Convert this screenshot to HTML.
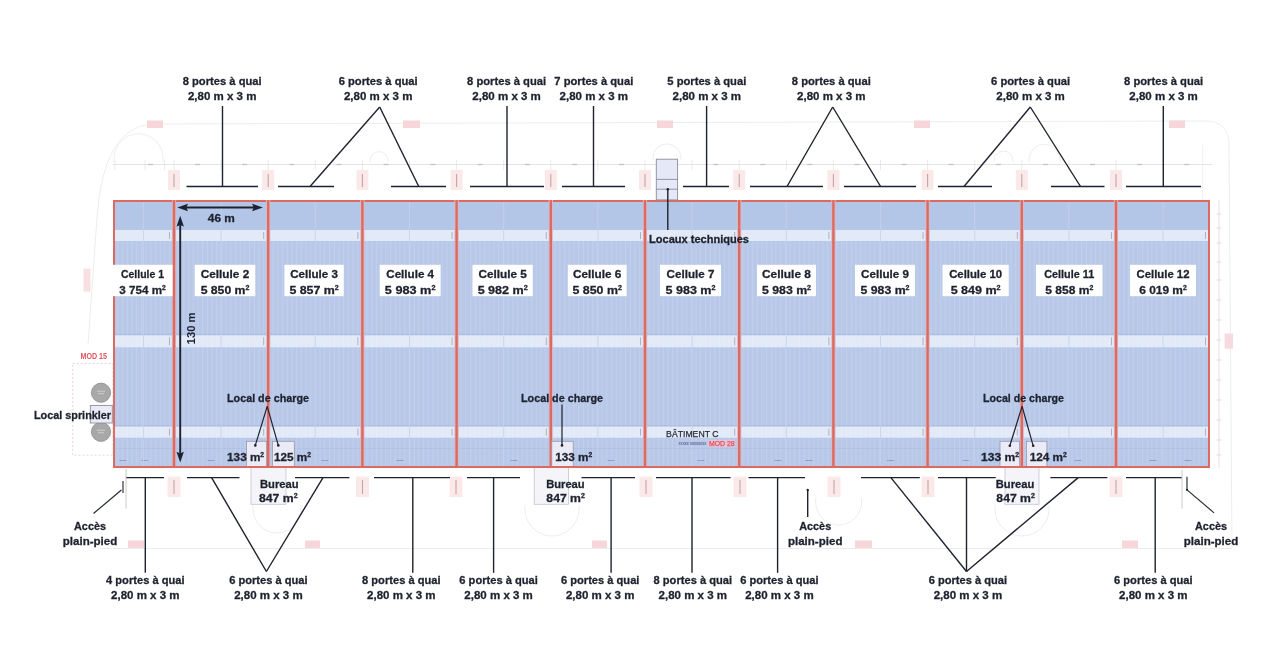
<!DOCTYPE html>
<html><head><meta charset="utf-8"><style>
html,body{margin:0;padding:0;background:#fff;}
svg{display:block;font-family:"Liberation Sans", sans-serif;filter:blur(0.35px);}
</style></head><body>
<svg width="1280" height="666" viewBox="0 0 1280 666">
<path d="M 88 345 L 97 217 Q 103 130 150 124 L 1205 121 Q 1229 121 1229 145 L 1232 548.5 L 100 548.5" fill="none" stroke="#ededed" stroke-width="1"/>
<line x1="113" y1="164.5" x2="1212" y2="164.5" stroke="#e2dcdc" stroke-width="0.8"/>
<line x1="148.0" y1="164.5" x2="153.0" y2="164.5" stroke="#c8c0c0" stroke-width="1.3"/>
<line x1="195.1" y1="164.5" x2="200.1" y2="164.5" stroke="#c8c0c0" stroke-width="1.3"/>
<line x1="242.2" y1="164.5" x2="247.2" y2="164.5" stroke="#c8c0c0" stroke-width="1.3"/>
<line x1="289.3" y1="164.5" x2="294.3" y2="164.5" stroke="#c8c0c0" stroke-width="1.3"/>
<line x1="336.4" y1="164.5" x2="341.4" y2="164.5" stroke="#c8c0c0" stroke-width="1.3"/>
<line x1="383.5" y1="164.5" x2="388.5" y2="164.5" stroke="#c8c0c0" stroke-width="1.3"/>
<line x1="430.6" y1="164.5" x2="435.6" y2="164.5" stroke="#c8c0c0" stroke-width="1.3"/>
<line x1="477.7" y1="164.5" x2="482.7" y2="164.5" stroke="#c8c0c0" stroke-width="1.3"/>
<line x1="524.8" y1="164.5" x2="529.8" y2="164.5" stroke="#c8c0c0" stroke-width="1.3"/>
<line x1="571.9000000000001" y1="164.5" x2="576.9000000000001" y2="164.5" stroke="#c8c0c0" stroke-width="1.3"/>
<line x1="619.0" y1="164.5" x2="624.0" y2="164.5" stroke="#c8c0c0" stroke-width="1.3"/>
<line x1="666.1" y1="164.5" x2="671.1" y2="164.5" stroke="#c8c0c0" stroke-width="1.3"/>
<line x1="713.2" y1="164.5" x2="718.2" y2="164.5" stroke="#c8c0c0" stroke-width="1.3"/>
<line x1="760.3000000000001" y1="164.5" x2="765.3000000000001" y2="164.5" stroke="#c8c0c0" stroke-width="1.3"/>
<line x1="807.4" y1="164.5" x2="812.4" y2="164.5" stroke="#c8c0c0" stroke-width="1.3"/>
<line x1="854.5" y1="164.5" x2="859.5" y2="164.5" stroke="#c8c0c0" stroke-width="1.3"/>
<line x1="901.6" y1="164.5" x2="906.6" y2="164.5" stroke="#c8c0c0" stroke-width="1.3"/>
<line x1="948.7" y1="164.5" x2="953.7" y2="164.5" stroke="#c8c0c0" stroke-width="1.3"/>
<line x1="995.8000000000001" y1="164.5" x2="1000.8000000000001" y2="164.5" stroke="#c8c0c0" stroke-width="1.3"/>
<line x1="1042.9" y1="164.5" x2="1047.9" y2="164.5" stroke="#c8c0c0" stroke-width="1.3"/>
<line x1="1090.0" y1="164.5" x2="1095.0" y2="164.5" stroke="#c8c0c0" stroke-width="1.3"/>
<line x1="1137.1" y1="164.5" x2="1142.1" y2="164.5" stroke="#c8c0c0" stroke-width="1.3"/>
<line x1="1184.2" y1="164.5" x2="1189.2" y2="164.5" stroke="#c8c0c0" stroke-width="1.3"/>
<line x1="100" y1="548.5" x2="1232" y2="548.5" stroke="#ebebeb" stroke-width="0.8"/>
<line x1="1219" y1="200" x2="1219" y2="468" stroke="#e6d2d2" stroke-width="0.7"/>
<line x1="1216.5" y1="214" x2="1221.5" y2="214" stroke="#d8c8c8" stroke-width="0.6"/>
<line x1="1216.5" y1="228" x2="1221.5" y2="228" stroke="#d8c8c8" stroke-width="0.6"/>
<line x1="1216.5" y1="243" x2="1221.5" y2="243" stroke="#d8c8c8" stroke-width="0.6"/>
<line x1="1216.5" y1="262" x2="1221.5" y2="262" stroke="#d8c8c8" stroke-width="0.6"/>
<line x1="1216.5" y1="280" x2="1221.5" y2="280" stroke="#d8c8c8" stroke-width="0.6"/>
<line x1="1216.5" y1="300" x2="1221.5" y2="300" stroke="#d8c8c8" stroke-width="0.6"/>
<line x1="1216.5" y1="320" x2="1221.5" y2="320" stroke="#d8c8c8" stroke-width="0.6"/>
<line x1="1216.5" y1="340" x2="1221.5" y2="340" stroke="#d8c8c8" stroke-width="0.6"/>
<line x1="1216.5" y1="360" x2="1221.5" y2="360" stroke="#d8c8c8" stroke-width="0.6"/>
<line x1="1216.5" y1="380" x2="1221.5" y2="380" stroke="#d8c8c8" stroke-width="0.6"/>
<line x1="1216.5" y1="400" x2="1221.5" y2="400" stroke="#d8c8c8" stroke-width="0.6"/>
<line x1="1216.5" y1="420" x2="1221.5" y2="420" stroke="#d8c8c8" stroke-width="0.6"/>
<line x1="1216.5" y1="440" x2="1221.5" y2="440" stroke="#d8c8c8" stroke-width="0.6"/>
<line x1="1216.5" y1="455" x2="1221.5" y2="455" stroke="#d8c8c8" stroke-width="0.6"/>
<rect x="1224.6" y="333.5" width="8.4" height="15.2" fill="#f7dadd" stroke="none" stroke-width="1"/>
<rect x="83.5" y="268.6" width="7" height="23" fill="#f8dfe1" stroke="none" stroke-width="1"/>
<line x1="115" y1="160" x2="115" y2="170" stroke="#dcdcdc" stroke-width="0.6"/>
<line x1="145" y1="160" x2="145" y2="170" stroke="#dcdcdc" stroke-width="0.6"/>
<line x1="164.5" y1="160" x2="164.5" y2="170" stroke="#dcdcdc" stroke-width="0.6"/>
<line x1="174.0" y1="160" x2="174.0" y2="170" stroke="#dcdcdc" stroke-width="0.6"/>
<line x1="221.1" y1="160" x2="221.1" y2="170" stroke="#dcdcdc" stroke-width="0.6"/>
<line x1="268.2" y1="160" x2="268.2" y2="170" stroke="#dcdcdc" stroke-width="0.6"/>
<line x1="315.3" y1="160" x2="315.3" y2="170" stroke="#dcdcdc" stroke-width="0.6"/>
<line x1="362.4" y1="160" x2="362.4" y2="170" stroke="#dcdcdc" stroke-width="0.6"/>
<line x1="409.5" y1="160" x2="409.5" y2="170" stroke="#dcdcdc" stroke-width="0.6"/>
<line x1="456.6" y1="160" x2="456.6" y2="170" stroke="#dcdcdc" stroke-width="0.6"/>
<line x1="503.7" y1="160" x2="503.7" y2="170" stroke="#dcdcdc" stroke-width="0.6"/>
<line x1="550.8" y1="160" x2="550.8" y2="170" stroke="#dcdcdc" stroke-width="0.6"/>
<line x1="597.9000000000001" y1="160" x2="597.9000000000001" y2="170" stroke="#dcdcdc" stroke-width="0.6"/>
<line x1="645.0" y1="160" x2="645.0" y2="170" stroke="#dcdcdc" stroke-width="0.6"/>
<line x1="692.1" y1="160" x2="692.1" y2="170" stroke="#dcdcdc" stroke-width="0.6"/>
<line x1="739.2" y1="160" x2="739.2" y2="170" stroke="#dcdcdc" stroke-width="0.6"/>
<line x1="786.3000000000001" y1="160" x2="786.3000000000001" y2="170" stroke="#dcdcdc" stroke-width="0.6"/>
<line x1="833.4" y1="160" x2="833.4" y2="170" stroke="#dcdcdc" stroke-width="0.6"/>
<line x1="880.5" y1="160" x2="880.5" y2="170" stroke="#dcdcdc" stroke-width="0.6"/>
<line x1="927.6" y1="160" x2="927.6" y2="170" stroke="#dcdcdc" stroke-width="0.6"/>
<line x1="974.7" y1="160" x2="974.7" y2="170" stroke="#dcdcdc" stroke-width="0.6"/>
<line x1="1021.8000000000001" y1="160" x2="1021.8000000000001" y2="170" stroke="#dcdcdc" stroke-width="0.6"/>
<line x1="1068.9" y1="160" x2="1068.9" y2="170" stroke="#dcdcdc" stroke-width="0.6"/>
<line x1="1116.0" y1="160" x2="1116.0" y2="170" stroke="#dcdcdc" stroke-width="0.6"/>
<line x1="1163.1" y1="160" x2="1163.1" y2="170" stroke="#dcdcdc" stroke-width="0.6"/>
<path d="M 114.0 162 L 114.0 158.3 A 24.5 24.5 0 0 1 163.0 158.3 L 163.0 162" fill="none" stroke="#ebebeb" stroke-width="0.9"/>
<path d="M 370 162 L 370 160.7 A 9 9 0 0 1 388 160.7 L 388 162" fill="none" stroke="#ebebeb" stroke-width="0.9"/>
<path d="M 653 160 L 653 157.9 A 14 14 0 0 1 681 157.9 L 681 160" fill="none" stroke="#ebebeb" stroke-width="0.9"/>
<path d="M 1029.0 162 L 1029.0 159.7 A 15.5 15.5 0 0 1 1060.0 159.7 L 1060.0 162" fill="none" stroke="#ebebeb" stroke-width="0.9"/>
<path d="M 994.0 162 L 994.0 160.6 A 9.5 9.5 0 0 1 1013.0 160.6 L 1013.0 162" fill="none" stroke="#ebebeb" stroke-width="0.9"/>
<path d="M 253 505 L 253 509 A 24 24 0 0 0 301 509 L 301 505" fill="none" stroke="#ebebeb" stroke-width="0.9"/>
<path d="M 525 505 L 525 509 A 27 27 0 0 0 579 509 L 579 505" fill="none" stroke="#ebebeb" stroke-width="0.9"/>
<path d="M 815.7 498 L 815.7 502 A 23 23 0 0 0 861.7 502 L 861.7 498" fill="none" stroke="#ebebeb" stroke-width="0.9"/>
<path d="M 995 505 L 995 509 A 27 27 0 0 0 1049 509 L 1049 505" fill="none" stroke="#ebebeb" stroke-width="0.9"/>
<line x1="1202.7" y1="145" x2="1202.7" y2="200" stroke="#ececec" stroke-width="0.8"/>
<rect x="113" y="200" width="1097" height="268" fill="#b7c8e9" stroke="none" stroke-width="1"/>
<rect x="113" y="201" width="1097" height="29" fill="#b4c6e8" stroke="none" stroke-width="1"/>
<rect x="113" y="230" width="1097" height="11" fill="#e2e9f7" stroke="none" stroke-width="1"/>
<rect x="113" y="333.7" width="1097" height="1.6" fill="#adbedf" stroke="none" stroke-width="1"/>
<rect x="113" y="335.3" width="1097" height="12.0" fill="#e2e9f7" stroke="none" stroke-width="1"/>
<rect x="113" y="425.0" width="1097" height="1.6" fill="#adbedf" stroke="none" stroke-width="1"/>
<rect x="113" y="426.6" width="1097" height="11.099999999999966" fill="#e2e9f7" stroke="none" stroke-width="1"/>
<line x1="113" y1="448.5" x2="1210" y2="448.5" stroke="#a9bbdf" stroke-width="0.6"/>
<line x1="119.4" y1="460.5" x2="126.4" y2="460.5" stroke="#8d9fc6" stroke-width="1"/>
<line x1="140.9" y1="460.5" x2="147.9" y2="460.5" stroke="#8d9fc6" stroke-width="1"/>
<line x1="207.5" y1="460.5" x2="214.5" y2="460.5" stroke="#8d9fc6" stroke-width="1"/>
<line x1="321.4" y1="460.5" x2="328.4" y2="460.5" stroke="#8d9fc6" stroke-width="1"/>
<line x1="396.5" y1="460.5" x2="403.5" y2="460.5" stroke="#8d9fc6" stroke-width="1"/>
<line x1="510.5" y1="460.5" x2="517.5" y2="460.5" stroke="#8d9fc6" stroke-width="1"/>
<line x1="607.5" y1="460.5" x2="614.5" y2="460.5" stroke="#8d9fc6" stroke-width="1"/>
<line x1="697.3" y1="460.5" x2="704.3" y2="460.5" stroke="#8d9fc6" stroke-width="1"/>
<line x1="774.5" y1="460.5" x2="781.5" y2="460.5" stroke="#8d9fc6" stroke-width="1"/>
<line x1="805.5" y1="460.5" x2="812.5" y2="460.5" stroke="#8d9fc6" stroke-width="1"/>
<line x1="887.1" y1="460.5" x2="894.1" y2="460.5" stroke="#8d9fc6" stroke-width="1"/>
<line x1="962.2" y1="460.5" x2="969.2" y2="460.5" stroke="#8d9fc6" stroke-width="1"/>
<line x1="1074.5" y1="460.5" x2="1081.5" y2="460.5" stroke="#8d9fc6" stroke-width="1"/>
<line x1="1149.5" y1="460.5" x2="1156.5" y2="460.5" stroke="#8d9fc6" stroke-width="1"/>
<line x1="1184.2" y1="460.5" x2="1191.2" y2="460.5" stroke="#8d9fc6" stroke-width="1"/>
<defs><pattern id="st" x="0" y="0" width="4.7" height="10" patternUnits="userSpaceOnUse"><rect x="0" y="0" width="1" height="10" fill="#ffffff" fill-opacity="0.13"/></pattern></defs>
<rect x="113" y="241" width="1097" height="225" fill="url(#st)" stroke="none" stroke-width="1"/>
<line x1="169.5" y1="232" x2="169.5" y2="239" stroke="#a8aab8" stroke-width="0.9"/>
<line x1="169.5" y1="337.3" x2="169.5" y2="345.3" stroke="#a8aab8" stroke-width="0.9"/>
<line x1="169.5" y1="428.6" x2="169.5" y2="435.7" stroke="#a8aab8" stroke-width="0.9"/>
<line x1="263.7" y1="232" x2="263.7" y2="239" stroke="#a8aab8" stroke-width="0.9"/>
<line x1="263.7" y1="337.3" x2="263.7" y2="345.3" stroke="#a8aab8" stroke-width="0.9"/>
<line x1="263.7" y1="428.6" x2="263.7" y2="435.7" stroke="#a8aab8" stroke-width="0.9"/>
<line x1="357.9" y1="232" x2="357.9" y2="239" stroke="#a8aab8" stroke-width="0.9"/>
<line x1="357.9" y1="337.3" x2="357.9" y2="345.3" stroke="#a8aab8" stroke-width="0.9"/>
<line x1="357.9" y1="428.6" x2="357.9" y2="435.7" stroke="#a8aab8" stroke-width="0.9"/>
<line x1="452.1" y1="232" x2="452.1" y2="239" stroke="#a8aab8" stroke-width="0.9"/>
<line x1="452.1" y1="337.3" x2="452.1" y2="345.3" stroke="#a8aab8" stroke-width="0.9"/>
<line x1="452.1" y1="428.6" x2="452.1" y2="435.7" stroke="#a8aab8" stroke-width="0.9"/>
<line x1="546.3" y1="232" x2="546.3" y2="239" stroke="#a8aab8" stroke-width="0.9"/>
<line x1="546.3" y1="337.3" x2="546.3" y2="345.3" stroke="#a8aab8" stroke-width="0.9"/>
<line x1="546.3" y1="428.6" x2="546.3" y2="435.7" stroke="#a8aab8" stroke-width="0.9"/>
<line x1="640.5" y1="232" x2="640.5" y2="239" stroke="#a8aab8" stroke-width="0.9"/>
<line x1="640.5" y1="337.3" x2="640.5" y2="345.3" stroke="#a8aab8" stroke-width="0.9"/>
<line x1="640.5" y1="428.6" x2="640.5" y2="435.7" stroke="#a8aab8" stroke-width="0.9"/>
<line x1="734.7" y1="232" x2="734.7" y2="239" stroke="#a8aab8" stroke-width="0.9"/>
<line x1="734.7" y1="337.3" x2="734.7" y2="345.3" stroke="#a8aab8" stroke-width="0.9"/>
<line x1="734.7" y1="428.6" x2="734.7" y2="435.7" stroke="#a8aab8" stroke-width="0.9"/>
<line x1="828.9" y1="232" x2="828.9" y2="239" stroke="#a8aab8" stroke-width="0.9"/>
<line x1="828.9" y1="337.3" x2="828.9" y2="345.3" stroke="#a8aab8" stroke-width="0.9"/>
<line x1="828.9" y1="428.6" x2="828.9" y2="435.7" stroke="#a8aab8" stroke-width="0.9"/>
<line x1="923.1" y1="232" x2="923.1" y2="239" stroke="#a8aab8" stroke-width="0.9"/>
<line x1="923.1" y1="337.3" x2="923.1" y2="345.3" stroke="#a8aab8" stroke-width="0.9"/>
<line x1="923.1" y1="428.6" x2="923.1" y2="435.7" stroke="#a8aab8" stroke-width="0.9"/>
<line x1="1017.3000000000001" y1="232" x2="1017.3000000000001" y2="239" stroke="#a8aab8" stroke-width="0.9"/>
<line x1="1017.3000000000001" y1="337.3" x2="1017.3000000000001" y2="345.3" stroke="#a8aab8" stroke-width="0.9"/>
<line x1="1017.3000000000001" y1="428.6" x2="1017.3000000000001" y2="435.7" stroke="#a8aab8" stroke-width="0.9"/>
<line x1="1111.5" y1="232" x2="1111.5" y2="239" stroke="#a8aab8" stroke-width="0.9"/>
<line x1="1111.5" y1="337.3" x2="1111.5" y2="345.3" stroke="#a8aab8" stroke-width="0.9"/>
<line x1="1111.5" y1="428.6" x2="1111.5" y2="435.7" stroke="#a8aab8" stroke-width="0.9"/>
<line x1="1205.5" y1="232" x2="1205.5" y2="239" stroke="#a8aab8" stroke-width="0.9"/>
<line x1="1205.5" y1="337.3" x2="1205.5" y2="345.3" stroke="#a8aab8" stroke-width="0.9"/>
<line x1="1205.5" y1="428.6" x2="1205.5" y2="435.7" stroke="#a8aab8" stroke-width="0.9"/>
<line x1="143.5" y1="202" x2="143.5" y2="466" stroke="#c4d2ee" stroke-width="0.8"/>
<line x1="221.1" y1="202" x2="221.1" y2="466" stroke="#c4d2ee" stroke-width="0.8"/>
<line x1="315.29999999999995" y1="202" x2="315.29999999999995" y2="466" stroke="#c4d2ee" stroke-width="0.8"/>
<line x1="409.5" y1="202" x2="409.5" y2="466" stroke="#c4d2ee" stroke-width="0.8"/>
<line x1="503.7" y1="202" x2="503.7" y2="466" stroke="#c4d2ee" stroke-width="0.8"/>
<line x1="597.9" y1="202" x2="597.9" y2="466" stroke="#c4d2ee" stroke-width="0.8"/>
<line x1="692.1" y1="202" x2="692.1" y2="466" stroke="#c4d2ee" stroke-width="0.8"/>
<line x1="786.3" y1="202" x2="786.3" y2="466" stroke="#c4d2ee" stroke-width="0.8"/>
<line x1="880.5" y1="202" x2="880.5" y2="466" stroke="#c4d2ee" stroke-width="0.8"/>
<line x1="974.7" y1="202" x2="974.7" y2="466" stroke="#c4d2ee" stroke-width="0.8"/>
<line x1="1068.9" y1="202" x2="1068.9" y2="466" stroke="#c4d2ee" stroke-width="0.8"/>
<line x1="1163.0" y1="202" x2="1163.0" y2="466" stroke="#c4d2ee" stroke-width="0.8"/>
<rect x="114" y="201" width="1095" height="266" fill="none" stroke="#dc6a60" stroke-width="2"/>
<line x1="174.0" y1="200" x2="174.0" y2="468" stroke="#dcb8c4" stroke-width="4.2"/>
<line x1="174.0" y1="200" x2="174.0" y2="468" stroke="#dc6a60" stroke-width="2.4"/>
<line x1="268.2" y1="200" x2="268.2" y2="468" stroke="#dcb8c4" stroke-width="4.2"/>
<line x1="268.2" y1="200" x2="268.2" y2="468" stroke="#dc6a60" stroke-width="2.4"/>
<line x1="362.4" y1="200" x2="362.4" y2="468" stroke="#dcb8c4" stroke-width="4.2"/>
<line x1="362.4" y1="200" x2="362.4" y2="468" stroke="#dc6a60" stroke-width="2.4"/>
<line x1="456.6" y1="200" x2="456.6" y2="468" stroke="#dcb8c4" stroke-width="4.2"/>
<line x1="456.6" y1="200" x2="456.6" y2="468" stroke="#dc6a60" stroke-width="2.4"/>
<line x1="550.8" y1="200" x2="550.8" y2="468" stroke="#dcb8c4" stroke-width="4.2"/>
<line x1="550.8" y1="200" x2="550.8" y2="468" stroke="#dc6a60" stroke-width="2.4"/>
<line x1="645.0" y1="200" x2="645.0" y2="468" stroke="#dcb8c4" stroke-width="4.2"/>
<line x1="645.0" y1="200" x2="645.0" y2="468" stroke="#dc6a60" stroke-width="2.4"/>
<line x1="739.2" y1="200" x2="739.2" y2="468" stroke="#dcb8c4" stroke-width="4.2"/>
<line x1="739.2" y1="200" x2="739.2" y2="468" stroke="#dc6a60" stroke-width="2.4"/>
<line x1="833.4" y1="200" x2="833.4" y2="468" stroke="#dcb8c4" stroke-width="4.2"/>
<line x1="833.4" y1="200" x2="833.4" y2="468" stroke="#dc6a60" stroke-width="2.4"/>
<line x1="927.6" y1="200" x2="927.6" y2="468" stroke="#dcb8c4" stroke-width="4.2"/>
<line x1="927.6" y1="200" x2="927.6" y2="468" stroke="#dc6a60" stroke-width="2.4"/>
<line x1="1021.8000000000001" y1="200" x2="1021.8000000000001" y2="468" stroke="#dcb8c4" stroke-width="4.2"/>
<line x1="1021.8000000000001" y1="200" x2="1021.8000000000001" y2="468" stroke="#dc6a60" stroke-width="2.4"/>
<line x1="1116.0" y1="200" x2="1116.0" y2="468" stroke="#dcb8c4" stroke-width="4.2"/>
<line x1="1116.0" y1="200" x2="1116.0" y2="468" stroke="#dc6a60" stroke-width="2.4"/>
<rect x="168.0" y="170" width="12" height="20" fill="#fbe9ea" stroke="none" stroke-width="1"/>
<line x1="174.0" y1="174" x2="174.0" y2="187" stroke="#c4a4a6" stroke-width="1.1"/>
<rect x="262.2" y="170" width="12" height="20" fill="#fbe9ea" stroke="none" stroke-width="1"/>
<line x1="268.2" y1="174" x2="268.2" y2="187" stroke="#c4a4a6" stroke-width="1.1"/>
<rect x="356.4" y="170" width="12" height="20" fill="#fbe9ea" stroke="none" stroke-width="1"/>
<line x1="362.4" y1="174" x2="362.4" y2="187" stroke="#c4a4a6" stroke-width="1.1"/>
<rect x="450.6" y="170" width="12" height="20" fill="#fbe9ea" stroke="none" stroke-width="1"/>
<line x1="456.6" y1="174" x2="456.6" y2="187" stroke="#c4a4a6" stroke-width="1.1"/>
<rect x="544.8" y="170" width="12" height="20" fill="#fbe9ea" stroke="none" stroke-width="1"/>
<line x1="550.8" y1="174" x2="550.8" y2="187" stroke="#c4a4a6" stroke-width="1.1"/>
<rect x="639.0" y="170" width="12" height="20" fill="#fbe9ea" stroke="none" stroke-width="1"/>
<line x1="645.0" y1="174" x2="645.0" y2="187" stroke="#c4a4a6" stroke-width="1.1"/>
<rect x="733.2" y="170" width="12" height="20" fill="#fbe9ea" stroke="none" stroke-width="1"/>
<line x1="739.2" y1="174" x2="739.2" y2="187" stroke="#c4a4a6" stroke-width="1.1"/>
<rect x="827.4" y="170" width="12" height="20" fill="#fbe9ea" stroke="none" stroke-width="1"/>
<line x1="833.4" y1="174" x2="833.4" y2="187" stroke="#c4a4a6" stroke-width="1.1"/>
<rect x="921.6" y="170" width="12" height="20" fill="#fbe9ea" stroke="none" stroke-width="1"/>
<line x1="927.6" y1="174" x2="927.6" y2="187" stroke="#c4a4a6" stroke-width="1.1"/>
<rect x="1015.8000000000001" y="170" width="12" height="20" fill="#fbe9ea" stroke="none" stroke-width="1"/>
<line x1="1021.8000000000001" y1="174" x2="1021.8000000000001" y2="187" stroke="#c4a4a6" stroke-width="1.1"/>
<rect x="1110.0" y="170" width="12" height="20" fill="#fbe9ea" stroke="none" stroke-width="1"/>
<line x1="1116.0" y1="174" x2="1116.0" y2="187" stroke="#c4a4a6" stroke-width="1.1"/>
<rect x="167.5" y="476.5" width="13" height="20.5" fill="#fbe9ea" stroke="none" stroke-width="1"/>
<line x1="174" y1="480" x2="174" y2="494" stroke="#c4a4a6" stroke-width="1.1"/>
<rect x="356.0" y="476.5" width="13" height="20.5" fill="#fbe9ea" stroke="none" stroke-width="1"/>
<line x1="362.5" y1="480" x2="362.5" y2="494" stroke="#c4a4a6" stroke-width="1.1"/>
<rect x="449.5" y="476.5" width="13" height="20.5" fill="#fbe9ea" stroke="none" stroke-width="1"/>
<line x1="456" y1="480" x2="456" y2="494" stroke="#c4a4a6" stroke-width="1.1"/>
<rect x="639.5" y="476.5" width="13" height="20.5" fill="#fbe9ea" stroke="none" stroke-width="1"/>
<line x1="646" y1="480" x2="646" y2="494" stroke="#c4a4a6" stroke-width="1.1"/>
<rect x="733.5" y="476.5" width="13" height="20.5" fill="#fbe9ea" stroke="none" stroke-width="1"/>
<line x1="740" y1="480" x2="740" y2="494" stroke="#c4a4a6" stroke-width="1.1"/>
<rect x="827.5" y="476.5" width="13" height="20.5" fill="#fbe9ea" stroke="none" stroke-width="1"/>
<line x1="834" y1="480" x2="834" y2="494" stroke="#c4a4a6" stroke-width="1.1"/>
<rect x="921.5" y="476.5" width="13" height="20.5" fill="#fbe9ea" stroke="none" stroke-width="1"/>
<line x1="928" y1="480" x2="928" y2="494" stroke="#c4a4a6" stroke-width="1.1"/>
<rect x="1109.5" y="476.5" width="13" height="20.5" fill="#fbe9ea" stroke="none" stroke-width="1"/>
<line x1="1116" y1="480" x2="1116" y2="494" stroke="#c4a4a6" stroke-width="1.1"/>
<rect x="147" y="120.5" width="16" height="7.5" fill="#f6d6d9" stroke="none" stroke-width="1"/>
<rect x="403" y="120.5" width="17" height="7.5" fill="#f6d6d9" stroke="none" stroke-width="1"/>
<rect x="657" y="120.5" width="16" height="7.5" fill="#f6d6d9" stroke="none" stroke-width="1"/>
<rect x="914" y="120.5" width="16" height="7.5" fill="#f6d6d9" stroke="none" stroke-width="1"/>
<rect x="1169" y="120.5" width="16" height="7.5" fill="#f6d6d9" stroke="none" stroke-width="1"/>
<rect x="128" y="540.5" width="16" height="7.5" fill="#f6d6d9" stroke="none" stroke-width="1"/>
<rect x="305" y="540.5" width="15" height="7.5" fill="#f6d6d9" stroke="none" stroke-width="1"/>
<rect x="592" y="540.5" width="15" height="7.5" fill="#f6d6d9" stroke="none" stroke-width="1"/>
<rect x="855" y="540.5" width="17" height="7.5" fill="#f6d6d9" stroke="none" stroke-width="1"/>
<rect x="1122" y="540.5" width="16" height="7.5" fill="#f6d6d9" stroke="none" stroke-width="1"/>
<text x="222.2" y="85.2" font-size="11.5" font-weight="bold" fill="#1e222e" text-anchor="middle" textLength="79" lengthAdjust="spacingAndGlyphs" stroke="#1e222e" stroke-width="0.3">8 portes à quai</text>
<text x="222.2" y="100.4" font-size="11.5" font-weight="bold" fill="#1e222e" text-anchor="middle" textLength="68.5" lengthAdjust="spacingAndGlyphs" stroke="#1e222e" stroke-width="0.3">2,80 m x 3 m</text>
<line x1="222.5" y1="106" x2="222.5" y2="186.5" stroke="#1e222e" stroke-width="1.4"/>
<line x1="186.5" y1="186.5" x2="258" y2="186.5" stroke="#1e222e" stroke-width="1.4"/>
<text x="378.2" y="85.2" font-size="11.5" font-weight="bold" fill="#1e222e" text-anchor="middle" textLength="79" lengthAdjust="spacingAndGlyphs" stroke="#1e222e" stroke-width="0.3">6 portes à quai</text>
<text x="378.2" y="100.4" font-size="11.5" font-weight="bold" fill="#1e222e" text-anchor="middle" textLength="68.5" lengthAdjust="spacingAndGlyphs" stroke="#1e222e" stroke-width="0.3">2,80 m x 3 m</text>
<line x1="379.7" y1="107" x2="310" y2="186.5" stroke="#1e222e" stroke-width="1.4"/>
<line x1="379.7" y1="107" x2="418.75" y2="186.5" stroke="#1e222e" stroke-width="1.4"/>
<line x1="278" y1="186.5" x2="334" y2="186.5" stroke="#1e222e" stroke-width="1.4"/>
<line x1="391" y1="186.5" x2="446" y2="186.5" stroke="#1e222e" stroke-width="1.4"/>
<text x="506.6" y="85.2" font-size="11.5" font-weight="bold" fill="#1e222e" text-anchor="middle" textLength="79" lengthAdjust="spacingAndGlyphs" stroke="#1e222e" stroke-width="0.3">8 portes à quai</text>
<text x="506.6" y="100.4" font-size="11.5" font-weight="bold" fill="#1e222e" text-anchor="middle" textLength="68.5" lengthAdjust="spacingAndGlyphs" stroke="#1e222e" stroke-width="0.3">2,80 m x 3 m</text>
<line x1="507" y1="106" x2="507" y2="186.5" stroke="#1e222e" stroke-width="1.4"/>
<line x1="470" y1="186.5" x2="544" y2="186.5" stroke="#1e222e" stroke-width="1.4"/>
<text x="593.8" y="85.2" font-size="11.5" font-weight="bold" fill="#1e222e" text-anchor="middle" textLength="79" lengthAdjust="spacingAndGlyphs" stroke="#1e222e" stroke-width="0.3">7 portes à quai</text>
<text x="593.8" y="100.4" font-size="11.5" font-weight="bold" fill="#1e222e" text-anchor="middle" textLength="68.5" lengthAdjust="spacingAndGlyphs" stroke="#1e222e" stroke-width="0.3">2,80 m x 3 m</text>
<line x1="593.5" y1="106" x2="593.5" y2="186.5" stroke="#1e222e" stroke-width="1.4"/>
<line x1="562" y1="186.5" x2="625" y2="186.5" stroke="#1e222e" stroke-width="1.4"/>
<text x="706.8" y="85.2" font-size="11.5" font-weight="bold" fill="#1e222e" text-anchor="middle" textLength="79" lengthAdjust="spacingAndGlyphs" stroke="#1e222e" stroke-width="0.3">5 portes à quai</text>
<text x="706.8" y="100.4" font-size="11.5" font-weight="bold" fill="#1e222e" text-anchor="middle" textLength="68.5" lengthAdjust="spacingAndGlyphs" stroke="#1e222e" stroke-width="0.3">2,80 m x 3 m</text>
<line x1="706.6" y1="106" x2="706.6" y2="186.5" stroke="#1e222e" stroke-width="1.4"/>
<line x1="683" y1="186.5" x2="729" y2="186.5" stroke="#1e222e" stroke-width="1.4"/>
<text x="831.3" y="85.2" font-size="11.5" font-weight="bold" fill="#1e222e" text-anchor="middle" textLength="79" lengthAdjust="spacingAndGlyphs" stroke="#1e222e" stroke-width="0.3">8 portes à quai</text>
<text x="831.3" y="100.4" font-size="11.5" font-weight="bold" fill="#1e222e" text-anchor="middle" textLength="68.5" lengthAdjust="spacingAndGlyphs" stroke="#1e222e" stroke-width="0.3">2,80 m x 3 m</text>
<line x1="832.7" y1="107" x2="787" y2="186.5" stroke="#1e222e" stroke-width="1.4"/>
<line x1="832.7" y1="107" x2="880.6" y2="186.5" stroke="#1e222e" stroke-width="1.4"/>
<line x1="750" y1="186.5" x2="823" y2="186.5" stroke="#1e222e" stroke-width="1.4"/>
<line x1="844" y1="186.5" x2="916" y2="186.5" stroke="#1e222e" stroke-width="1.4"/>
<text x="1030.6" y="85.2" font-size="11.5" font-weight="bold" fill="#1e222e" text-anchor="middle" textLength="79" lengthAdjust="spacingAndGlyphs" stroke="#1e222e" stroke-width="0.3">6 portes à quai</text>
<text x="1030.6" y="100.4" font-size="11.5" font-weight="bold" fill="#1e222e" text-anchor="middle" textLength="68.5" lengthAdjust="spacingAndGlyphs" stroke="#1e222e" stroke-width="0.3">2,80 m x 3 m</text>
<line x1="1030.3" y1="107" x2="964" y2="186.5" stroke="#1e222e" stroke-width="1.4"/>
<line x1="1030.3" y1="107" x2="1080.5" y2="186.5" stroke="#1e222e" stroke-width="1.4"/>
<line x1="938" y1="186.5" x2="992" y2="186.5" stroke="#1e222e" stroke-width="1.4"/>
<line x1="1051" y1="186.5" x2="1104.5" y2="186.5" stroke="#1e222e" stroke-width="1.4"/>
<text x="1163.6" y="85.2" font-size="11.5" font-weight="bold" fill="#1e222e" text-anchor="middle" textLength="79" lengthAdjust="spacingAndGlyphs" stroke="#1e222e" stroke-width="0.3">8 portes à quai</text>
<text x="1163.6" y="100.4" font-size="11.5" font-weight="bold" fill="#1e222e" text-anchor="middle" textLength="68.5" lengthAdjust="spacingAndGlyphs" stroke="#1e222e" stroke-width="0.3">2,80 m x 3 m</text>
<line x1="1163.3" y1="106" x2="1163.3" y2="186.5" stroke="#1e222e" stroke-width="1.4"/>
<line x1="1126" y1="186.5" x2="1201" y2="186.5" stroke="#1e222e" stroke-width="1.4"/>
<text x="145.3" y="584.1" font-size="11.5" font-weight="bold" fill="#1e222e" text-anchor="middle" textLength="78.5" lengthAdjust="spacingAndGlyphs" stroke="#1e222e" stroke-width="0.3">4 portes à quai</text>
<text x="145.3" y="599.4" font-size="11.5" font-weight="bold" fill="#1e222e" text-anchor="middle" textLength="68.5" lengthAdjust="spacingAndGlyphs" stroke="#1e222e" stroke-width="0.3">2,80 m x 3 m</text>
<line x1="145.3" y1="477.6" x2="145.3" y2="572.8" stroke="#1e222e" stroke-width="1.4"/>
<line x1="126" y1="477.6" x2="164" y2="477.6" stroke="#1e222e" stroke-width="1.4"/>
<text x="268.4" y="584.1" font-size="11.5" font-weight="bold" fill="#1e222e" text-anchor="middle" textLength="78.5" lengthAdjust="spacingAndGlyphs" stroke="#1e222e" stroke-width="0.3">6 portes à quai</text>
<text x="268.4" y="599.4" font-size="11.5" font-weight="bold" fill="#1e222e" text-anchor="middle" textLength="68.5" lengthAdjust="spacingAndGlyphs" stroke="#1e222e" stroke-width="0.3">2,80 m x 3 m</text>
<line x1="266.4" y1="571.5" x2="211.6" y2="477.6" stroke="#1e222e" stroke-width="1.4"/>
<line x1="266.4" y1="571.5" x2="323" y2="477.6" stroke="#1e222e" stroke-width="1.4"/>
<line x1="187" y1="477.6" x2="239.5" y2="477.6" stroke="#1e222e" stroke-width="1.4"/>
<line x1="295" y1="477.6" x2="349.4" y2="477.6" stroke="#1e222e" stroke-width="1.4"/>
<text x="401.3" y="584.1" font-size="11.5" font-weight="bold" fill="#1e222e" text-anchor="middle" textLength="78.5" lengthAdjust="spacingAndGlyphs" stroke="#1e222e" stroke-width="0.3">8 portes à quai</text>
<text x="401.3" y="599.4" font-size="11.5" font-weight="bold" fill="#1e222e" text-anchor="middle" textLength="68.5" lengthAdjust="spacingAndGlyphs" stroke="#1e222e" stroke-width="0.3">2,80 m x 3 m</text>
<line x1="412.8" y1="477.6" x2="412.8" y2="572.8" stroke="#1e222e" stroke-width="1.4"/>
<line x1="374" y1="477.6" x2="450" y2="477.6" stroke="#1e222e" stroke-width="1.4"/>
<text x="498.6" y="584.1" font-size="11.5" font-weight="bold" fill="#1e222e" text-anchor="middle" textLength="78.5" lengthAdjust="spacingAndGlyphs" stroke="#1e222e" stroke-width="0.3">6 portes à quai</text>
<text x="498.6" y="599.4" font-size="11.5" font-weight="bold" fill="#1e222e" text-anchor="middle" textLength="68.5" lengthAdjust="spacingAndGlyphs" stroke="#1e222e" stroke-width="0.3">2,80 m x 3 m</text>
<line x1="493.6" y1="477.6" x2="493.6" y2="572.8" stroke="#1e222e" stroke-width="1.4"/>
<line x1="467" y1="477.6" x2="520" y2="477.6" stroke="#1e222e" stroke-width="1.4"/>
<text x="600.2" y="584.1" font-size="11.5" font-weight="bold" fill="#1e222e" text-anchor="middle" textLength="78.5" lengthAdjust="spacingAndGlyphs" stroke="#1e222e" stroke-width="0.3">6 portes à quai</text>
<text x="600.2" y="599.4" font-size="11.5" font-weight="bold" fill="#1e222e" text-anchor="middle" textLength="68.5" lengthAdjust="spacingAndGlyphs" stroke="#1e222e" stroke-width="0.3">2,80 m x 3 m</text>
<line x1="611.1" y1="477.6" x2="611.1" y2="572.8" stroke="#1e222e" stroke-width="1.4"/>
<line x1="581.5" y1="477.6" x2="635" y2="477.6" stroke="#1e222e" stroke-width="1.4"/>
<text x="692.8" y="584.1" font-size="11.5" font-weight="bold" fill="#1e222e" text-anchor="middle" textLength="78.5" lengthAdjust="spacingAndGlyphs" stroke="#1e222e" stroke-width="0.3">8 portes à quai</text>
<text x="692.8" y="599.4" font-size="11.5" font-weight="bold" fill="#1e222e" text-anchor="middle" textLength="68.5" lengthAdjust="spacingAndGlyphs" stroke="#1e222e" stroke-width="0.3">2,80 m x 3 m</text>
<line x1="692" y1="477.6" x2="692" y2="572.8" stroke="#1e222e" stroke-width="1.4"/>
<line x1="656" y1="477.6" x2="730.6" y2="477.6" stroke="#1e222e" stroke-width="1.4"/>
<text x="779.4" y="584.1" font-size="11.5" font-weight="bold" fill="#1e222e" text-anchor="middle" textLength="78.5" lengthAdjust="spacingAndGlyphs" stroke="#1e222e" stroke-width="0.3">6 portes à quai</text>
<text x="779.4" y="599.4" font-size="11.5" font-weight="bold" fill="#1e222e" text-anchor="middle" textLength="68.5" lengthAdjust="spacingAndGlyphs" stroke="#1e222e" stroke-width="0.3">2,80 m x 3 m</text>
<line x1="777.6" y1="477.6" x2="777.6" y2="572.8" stroke="#1e222e" stroke-width="1.4"/>
<line x1="748.5" y1="477.6" x2="805" y2="477.6" stroke="#1e222e" stroke-width="1.4"/>
<text x="967.9" y="584.1" font-size="11.5" font-weight="bold" fill="#1e222e" text-anchor="middle" textLength="78.5" lengthAdjust="spacingAndGlyphs" stroke="#1e222e" stroke-width="0.3">6 portes à quai</text>
<text x="967.9" y="599.4" font-size="11.5" font-weight="bold" fill="#1e222e" text-anchor="middle" textLength="68.5" lengthAdjust="spacingAndGlyphs" stroke="#1e222e" stroke-width="0.3">2,80 m x 3 m</text>
<line x1="966.5" y1="571.5" x2="890.9" y2="477.6" stroke="#1e222e" stroke-width="1.4"/>
<line x1="966.5" y1="571.5" x2="966.5" y2="477.6" stroke="#1e222e" stroke-width="1.4"/>
<line x1="966.5" y1="571.5" x2="1078.2" y2="477.6" stroke="#1e222e" stroke-width="1.4"/>
<line x1="861" y1="477.6" x2="919.8" y2="477.6" stroke="#1e222e" stroke-width="1.4"/>
<line x1="938" y1="477.6" x2="995.7" y2="477.6" stroke="#1e222e" stroke-width="1.4"/>
<line x1="1050.4" y1="477.6" x2="1107.4" y2="477.6" stroke="#1e222e" stroke-width="1.4"/>
<text x="1153.3" y="584.1" font-size="11.5" font-weight="bold" fill="#1e222e" text-anchor="middle" textLength="78.5" lengthAdjust="spacingAndGlyphs" stroke="#1e222e" stroke-width="0.3">6 portes à quai</text>
<text x="1153.3" y="599.4" font-size="11.5" font-weight="bold" fill="#1e222e" text-anchor="middle" textLength="68.5" lengthAdjust="spacingAndGlyphs" stroke="#1e222e" stroke-width="0.3">2,80 m x 3 m</text>
<line x1="1155.2" y1="477.6" x2="1155.2" y2="572.8" stroke="#1e222e" stroke-width="1.4"/>
<line x1="1126" y1="477.6" x2="1182" y2="477.6" stroke="#1e222e" stroke-width="1.4"/>
<rect x="112.5" y="264.8" width="60.0" height="31.4" fill="#ffffff" stroke="none" stroke-width="1"/>
<text x="142.5" y="277.8" font-size="11.5" font-weight="bold" fill="#1e222e" text-anchor="middle" textLength="43" lengthAdjust="spacingAndGlyphs" stroke="#1e222e" stroke-width="0.3">Cellule 1</text>
<text x="142.5" y="294" font-size="11.5" font-weight="bold" fill="#1e222e" text-anchor="middle" textLength="46.5" lengthAdjust="spacingAndGlyphs" stroke="#1e222e" stroke-width="0.3">3 754 m<tspan font-size="6.6" dy="-4.2">2</tspan></text>
<rect x="194.7" y="264.8" width="60.60000000000002" height="31.4" fill="#ffffff" stroke="none" stroke-width="1"/>
<text x="225.0" y="277.8" font-size="11.5" font-weight="bold" fill="#1e222e" text-anchor="middle" textLength="48.4" lengthAdjust="spacingAndGlyphs" stroke="#1e222e" stroke-width="0.3">Cellule 2</text>
<text x="225.0" y="294" font-size="11.5" font-weight="bold" fill="#1e222e" text-anchor="middle" textLength="48.75" lengthAdjust="spacingAndGlyphs" stroke="#1e222e" stroke-width="0.3">5 850 m<tspan font-size="6.6" dy="-4.2">2</tspan></text>
<rect x="284.4" y="264.8" width="59.35000000000002" height="31.4" fill="#ffffff" stroke="none" stroke-width="1"/>
<text x="314.075" y="277.8" font-size="11.5" font-weight="bold" fill="#1e222e" text-anchor="middle" textLength="47.8" lengthAdjust="spacingAndGlyphs" stroke="#1e222e" stroke-width="0.3">Cellule 3</text>
<text x="314.075" y="294" font-size="11.5" font-weight="bold" fill="#1e222e" text-anchor="middle" textLength="49.4" lengthAdjust="spacingAndGlyphs" stroke="#1e222e" stroke-width="0.3">5 857 m<tspan font-size="6.6" dy="-4.2">2</tspan></text>
<rect x="379.7" y="264.8" width="60.900000000000034" height="31.4" fill="#ffffff" stroke="none" stroke-width="1"/>
<text x="410.15" y="277.8" font-size="11.5" font-weight="bold" fill="#1e222e" text-anchor="middle" textLength="47.8" lengthAdjust="spacingAndGlyphs" stroke="#1e222e" stroke-width="0.3">Cellule 4</text>
<text x="410.15" y="294" font-size="11.5" font-weight="bold" fill="#1e222e" text-anchor="middle" textLength="50.6" lengthAdjust="spacingAndGlyphs" stroke="#1e222e" stroke-width="0.3">5 983 m<tspan font-size="6.6" dy="-4.2">2</tspan></text>
<rect x="472.5" y="264.8" width="60.299999999999955" height="31.4" fill="#ffffff" stroke="none" stroke-width="1"/>
<text x="502.65" y="277.8" font-size="11.5" font-weight="bold" fill="#1e222e" text-anchor="middle" textLength="48.4" lengthAdjust="spacingAndGlyphs" stroke="#1e222e" stroke-width="0.3">Cellule 5</text>
<text x="502.65" y="294" font-size="11.5" font-weight="bold" fill="#1e222e" text-anchor="middle" textLength="50" lengthAdjust="spacingAndGlyphs" stroke="#1e222e" stroke-width="0.3">5 982 m<tspan font-size="6.6" dy="-4.2">2</tspan></text>
<rect x="567.8" y="264.8" width="58.80000000000007" height="31.4" fill="#ffffff" stroke="none" stroke-width="1"/>
<text x="597.2" y="277.8" font-size="11.5" font-weight="bold" fill="#1e222e" text-anchor="middle" textLength="48.4" lengthAdjust="spacingAndGlyphs" stroke="#1e222e" stroke-width="0.3">Cellule 6</text>
<text x="597.2" y="294" font-size="11.5" font-weight="bold" fill="#1e222e" text-anchor="middle" textLength="49.4" lengthAdjust="spacingAndGlyphs" stroke="#1e222e" stroke-width="0.3">5 850 m<tspan font-size="6.6" dy="-4.2">2</tspan></text>
<rect x="660" y="264.8" width="61" height="31.4" fill="#ffffff" stroke="none" stroke-width="1"/>
<text x="690.5" y="277.8" font-size="11.5" font-weight="bold" fill="#1e222e" text-anchor="middle" textLength="47.8" lengthAdjust="spacingAndGlyphs" stroke="#1e222e" stroke-width="0.3">Cellule 7</text>
<text x="690.5" y="294" font-size="11.5" font-weight="bold" fill="#1e222e" text-anchor="middle" textLength="50" lengthAdjust="spacingAndGlyphs" stroke="#1e222e" stroke-width="0.3">5 983 m<tspan font-size="6.6" dy="-4.2">2</tspan></text>
<rect x="757" y="264.8" width="59" height="31.4" fill="#ffffff" stroke="none" stroke-width="1"/>
<text x="786.5" y="277.8" font-size="11.5" font-weight="bold" fill="#1e222e" text-anchor="middle" textLength="49" lengthAdjust="spacingAndGlyphs" stroke="#1e222e" stroke-width="0.3">Cellule 8</text>
<text x="786.5" y="294" font-size="11.5" font-weight="bold" fill="#1e222e" text-anchor="middle" textLength="49" lengthAdjust="spacingAndGlyphs" stroke="#1e222e" stroke-width="0.3">5 983 m<tspan font-size="6.6" dy="-4.2">2</tspan></text>
<rect x="855" y="264.8" width="60" height="31.4" fill="#ffffff" stroke="none" stroke-width="1"/>
<text x="885.0" y="277.8" font-size="11.5" font-weight="bold" fill="#1e222e" text-anchor="middle" textLength="47.8" lengthAdjust="spacingAndGlyphs" stroke="#1e222e" stroke-width="0.3">Cellule 9</text>
<text x="885.0" y="294" font-size="11.5" font-weight="bold" fill="#1e222e" text-anchor="middle" textLength="49" lengthAdjust="spacingAndGlyphs" stroke="#1e222e" stroke-width="0.3">5 983 m<tspan font-size="6.6" dy="-4.2">2</tspan></text>
<rect x="942.5" y="264.8" width="66.25" height="31.4" fill="#ffffff" stroke="none" stroke-width="1"/>
<text x="975.625" y="277.8" font-size="11.5" font-weight="bold" fill="#1e222e" text-anchor="middle" textLength="53" lengthAdjust="spacingAndGlyphs" stroke="#1e222e" stroke-width="0.3">Cellule 10</text>
<text x="975.625" y="294" font-size="11.5" font-weight="bold" fill="#1e222e" text-anchor="middle" textLength="50" lengthAdjust="spacingAndGlyphs" stroke="#1e222e" stroke-width="0.3">5 849 m<tspan font-size="6.6" dy="-4.2">2</tspan></text>
<rect x="1036" y="264.8" width="66.5" height="31.4" fill="#ffffff" stroke="none" stroke-width="1"/>
<text x="1069.25" y="277.8" font-size="11.5" font-weight="bold" fill="#1e222e" text-anchor="middle" textLength="50" lengthAdjust="spacingAndGlyphs" stroke="#1e222e" stroke-width="0.3">Cellule 11</text>
<text x="1069.25" y="294" font-size="11.5" font-weight="bold" fill="#1e222e" text-anchor="middle" textLength="48" lengthAdjust="spacingAndGlyphs" stroke="#1e222e" stroke-width="0.3">5 858 m<tspan font-size="6.6" dy="-4.2">2</tspan></text>
<rect x="1130" y="264.8" width="66" height="31.4" fill="#ffffff" stroke="none" stroke-width="1"/>
<text x="1163.0" y="277.8" font-size="11.5" font-weight="bold" fill="#1e222e" text-anchor="middle" textLength="53" lengthAdjust="spacingAndGlyphs" stroke="#1e222e" stroke-width="0.3">Cellule 12</text>
<text x="1163.0" y="294" font-size="11.5" font-weight="bold" fill="#1e222e" text-anchor="middle" textLength="47.5" lengthAdjust="spacingAndGlyphs" stroke="#1e222e" stroke-width="0.3">6 019 m<tspan font-size="6.6" dy="-4.2">2</tspan></text>
<line x1="182" y1="207.5" x2="258" y2="207.5" stroke="#1e222e" stroke-width="1.9"/>
<path d="M 177.2 207.5 L 188.00 203.80 L 186.40 207.50 L 188.00 211.20 Z" fill="#1e222e"/>
<path d="M 262.9 207.5 L 252.10 211.20 L 253.70 207.50 L 252.10 203.80 Z" fill="#1e222e"/>
<text x="221.3" y="221.9" font-size="11.5" font-weight="bold" fill="#1e222e" text-anchor="middle" textLength="27" lengthAdjust="spacingAndGlyphs" stroke="#1e222e" stroke-width="0.3">46 m</text>
<line x1="180.2" y1="222" x2="180.2" y2="456" stroke="#1e222e" stroke-width="1.9"/>
<path d="M 180.2 215.8 L 183.90 226.60 L 180.20 225.00 L 176.50 226.60 Z" fill="#1e222e"/>
<path d="M 180.2 462.6 L 176.50 451.80 L 180.20 453.40 L 183.90 451.80 Z" fill="#1e222e"/>
<text x="0" y="0" font-size="11.5" font-weight="bold" fill="#1e222e" text-anchor="middle" textLength="32" lengthAdjust="spacingAndGlyphs" transform="translate(195.4 328.4) rotate(-90)">130 m</text>
<rect x="246.5" y="441.3" width="20.100000000000023" height="25.69999999999999" fill="#eaebf6" stroke="#9a9aa8" stroke-width="0.8"/>
<rect x="272.4" y="441.3" width="21.900000000000034" height="25.69999999999999" fill="#eaebf6" stroke="#9a9aa8" stroke-width="0.8"/>
<text x="268" y="402.6" font-size="11.5" font-weight="bold" fill="#1e222e" text-anchor="middle" textLength="82" lengthAdjust="spacingAndGlyphs" stroke="#1e222e" stroke-width="0.3" dy="-0.9">Local de charge</text>
<line x1="267.2" y1="406.3" x2="255.3" y2="445.4" stroke="#1e222e" stroke-width="1.2"/>
<line x1="267.2" y1="406.3" x2="278.3" y2="445.4" stroke="#1e222e" stroke-width="1.2"/>
<circle cx="255.3" cy="445.4" r="1.3" fill="#1e222e"/>
<circle cx="278.3" cy="445.4" r="1.3" fill="#1e222e"/>
<rect x="551.8" y="441.3" width="21.40000000000009" height="25.69999999999999" fill="#eaebf6" stroke="#9a9aa8" stroke-width="0.8"/>
<text x="562" y="402.6" font-size="11.5" font-weight="bold" fill="#1e222e" text-anchor="middle" textLength="82" lengthAdjust="spacingAndGlyphs" stroke="#1e222e" stroke-width="0.3" dy="-0.9">Local de charge</text>
<line x1="562" y1="404.4" x2="562" y2="445.4" stroke="#1e222e" stroke-width="1.2"/>
<circle cx="562" cy="445.4" r="1.3" fill="#1e222e"/>
<rect x="1000" y="441.3" width="19.600000000000023" height="25.69999999999999" fill="#eaebf6" stroke="#9a9aa8" stroke-width="0.8"/>
<rect x="1026.4" y="441.3" width="20.5" height="25.69999999999999" fill="#eaebf6" stroke="#9a9aa8" stroke-width="0.8"/>
<text x="1023.5" y="402.6" font-size="11.5" font-weight="bold" fill="#1e222e" text-anchor="middle" textLength="81" lengthAdjust="spacingAndGlyphs" stroke="#1e222e" stroke-width="0.3" dy="-0.9">Local de charge</text>
<line x1="1022.1" y1="406.4" x2="1009.8" y2="445.8" stroke="#1e222e" stroke-width="1.2"/>
<line x1="1022.1" y1="406.4" x2="1033.2" y2="445.8" stroke="#1e222e" stroke-width="1.2"/>
<circle cx="1009.8" cy="445.8" r="1.3" fill="#1e222e"/>
<circle cx="1033.2" cy="445.8" r="1.3" fill="#1e222e"/>
<rect x="251" y="467.5" width="35" height="36.8" fill="#f4f4f9" stroke="#c4c4d0" stroke-width="0.8"/>
<rect x="534.2" y="467.5" width="34.19999999999993" height="36.8" fill="#f4f4f9" stroke="#c4c4d0" stroke-width="0.8"/>
<rect x="1005" y="467.5" width="34" height="36.8" fill="#f4f4f9" stroke="#c4c4d0" stroke-width="0.8"/>
<line x1="113" y1="467" x2="1210" y2="467" stroke="#dc6a60" stroke-width="2"/>
<text x="245.6" y="461.2" font-size="11.5" font-weight="bold" fill="#1e222e" text-anchor="middle" textLength="37" lengthAdjust="spacingAndGlyphs" stroke="#1e222e" stroke-width="0.3">133 m<tspan font-size="6.6" dy="-4.2">2</tspan></text>
<text x="292.4" y="461.2" font-size="11.5" font-weight="bold" fill="#1e222e" text-anchor="middle" textLength="37" lengthAdjust="spacingAndGlyphs" stroke="#1e222e" stroke-width="0.3">125 m<tspan font-size="6.6" dy="-4.2">2</tspan></text>
<text x="573.7" y="461.2" font-size="11.5" font-weight="bold" fill="#1e222e" text-anchor="middle" textLength="37" lengthAdjust="spacingAndGlyphs" stroke="#1e222e" stroke-width="0.3">133 m<tspan font-size="6.6" dy="-4.2">2</tspan></text>
<text x="1000" y="461.2" font-size="11.5" font-weight="bold" fill="#1e222e" text-anchor="middle" textLength="38" lengthAdjust="spacingAndGlyphs" stroke="#1e222e" stroke-width="0.3">133 m<tspan font-size="6.6" dy="-4.2">2</tspan></text>
<text x="1048.2" y="461.2" font-size="11.5" font-weight="bold" fill="#1e222e" text-anchor="middle" textLength="37" lengthAdjust="spacingAndGlyphs" stroke="#1e222e" stroke-width="0.3">124 m<tspan font-size="6.6" dy="-4.2">2</tspan></text>
<text x="279.3" y="487.6" font-size="11.5" font-weight="bold" fill="#1e222e" text-anchor="middle" textLength="38.5" lengthAdjust="spacingAndGlyphs" stroke="#1e222e" stroke-width="0.3">Bureau</text>
<text x="278.3" y="502.4" font-size="11.5" font-weight="bold" fill="#1e222e" text-anchor="middle" textLength="38.5" lengthAdjust="spacingAndGlyphs" stroke="#1e222e" stroke-width="0.3">847 m<tspan font-size="6.6" dy="-4.2">2</tspan></text>
<text x="565.4" y="487.6" font-size="11.5" font-weight="bold" fill="#1e222e" text-anchor="middle" textLength="38.5" lengthAdjust="spacingAndGlyphs" stroke="#1e222e" stroke-width="0.3">Bureau</text>
<text x="565.6" y="502.4" font-size="11.5" font-weight="bold" fill="#1e222e" text-anchor="middle" textLength="38.5" lengthAdjust="spacingAndGlyphs" stroke="#1e222e" stroke-width="0.3">847 m<tspan font-size="6.6" dy="-4.2">2</tspan></text>
<text x="1015" y="487.6" font-size="11.5" font-weight="bold" fill="#1e222e" text-anchor="middle" textLength="38.5" lengthAdjust="spacingAndGlyphs" stroke="#1e222e" stroke-width="0.3">Bureau</text>
<text x="1015.6" y="502.4" font-size="11.5" font-weight="bold" fill="#1e222e" text-anchor="middle" textLength="38.5" lengthAdjust="spacingAndGlyphs" stroke="#1e222e" stroke-width="0.3">847 m<tspan font-size="6.6" dy="-4.2">2</tspan></text>
<rect x="656.3" y="159.2" width="21.3" height="40.7" fill="#e5e8f6" stroke="#8c8c9c" stroke-width="0.9"/>
<line x1="656.3" y1="179.4" x2="677.6" y2="179.4" stroke="#8c8c9c" stroke-width="0.9"/>
<line x1="656.3" y1="189.2" x2="677.6" y2="189.2" stroke="#8c8c9c" stroke-width="0.9"/>
<line x1="667.8" y1="189.2" x2="667.8" y2="230" stroke="#1e222e" stroke-width="1.4"/>
<circle cx="667.8" cy="189.2" r="1.3" fill="#1e222e"/>
<text x="699" y="243" font-size="11.5" font-weight="bold" fill="#1e222e" text-anchor="middle" textLength="100" lengthAdjust="spacingAndGlyphs" stroke="#1e222e" stroke-width="0.3">Locaux techniques</text>
<rect x="72.7" y="363.4" width="40" height="91.8" fill="none" stroke="#e8caca" stroke-width="0.8" stroke-dasharray="2 2"/>
<text x="80.5" y="358.6" font-size="8.2" font-weight="bold" fill="#e05560" textLength="26.5" lengthAdjust="spacingAndGlyphs">MOD 15</text>
<circle cx="101" cy="392.7" r="9.6" fill="#a8a8a8" stroke="#8e8e8e" stroke-width="0.8"/>
<line x1="97" y1="391.2" x2="105" y2="391.2" stroke="#d8d8d8" stroke-width="0.8"/>
<line x1="98" y1="393.7" x2="104" y2="393.7" stroke="#d8d8d8" stroke-width="0.8"/>
<circle cx="101" cy="431.8" r="9.6" fill="#a8a8a8" stroke="#8e8e8e" stroke-width="0.8"/>
<line x1="97" y1="430.3" x2="105" y2="430.3" stroke="#d8d8d8" stroke-width="0.8"/>
<line x1="98" y1="432.8" x2="104" y2="432.8" stroke="#d8d8d8" stroke-width="0.8"/>
<rect x="90.3" y="405.4" width="22" height="17.6" fill="#eceaf6" stroke="#8c8c9c" stroke-width="0.9"/>
<text x="34" y="419.4" font-size="11.5" font-weight="bold" fill="#1e222e" text-anchor="start" textLength="77" lengthAdjust="spacingAndGlyphs" stroke="#1e222e" stroke-width="0.3">Local sprinkler</text>
<text x="692.3" y="436.6" font-size="9.3" font-weight="normal" fill="#2a2c36" text-anchor="middle" textLength="52.4" lengthAdjust="spacingAndGlyphs" stroke="#2a2c36" stroke-width="0.25">BÂTIMENT C</text>
<text x="692.4" y="445.2" font-size="5" font-weight="normal" fill="#3a4470" text-anchor="middle" textLength="27.7" lengthAdjust="spacingAndGlyphs">xxxxx xxxxxxxx</text>
<rect x="708" y="440" width="27" height="7" fill="#e8c4d4" stroke="none" stroke-width="1"/>
<text x="709" y="446.4" font-size="7.8" font-weight="normal" fill="#e0505e" text-anchor="start" textLength="25.6" lengthAdjust="spacingAndGlyphs" stroke="#e0505e" stroke-width="0.25">MOD 28</text>
<text x="90" y="529.8" font-size="11.5" font-weight="bold" fill="#1e222e" text-anchor="middle" textLength="32" lengthAdjust="spacingAndGlyphs" stroke="#1e222e" stroke-width="0.3">Accès</text>
<text x="90" y="545.3" font-size="11.5" font-weight="bold" fill="#1e222e" text-anchor="middle" textLength="54.5" lengthAdjust="spacingAndGlyphs" stroke="#1e222e" stroke-width="0.3">plain-pied</text>
<text x="815.2" y="529.8" font-size="11.5" font-weight="bold" fill="#1e222e" text-anchor="middle" textLength="32" lengthAdjust="spacingAndGlyphs" stroke="#1e222e" stroke-width="0.3">Accès</text>
<text x="815.2" y="545.3" font-size="11.5" font-weight="bold" fill="#1e222e" text-anchor="middle" textLength="54.5" lengthAdjust="spacingAndGlyphs" stroke="#1e222e" stroke-width="0.3">plain-pied</text>
<text x="1211" y="529.8" font-size="11.5" font-weight="bold" fill="#1e222e" text-anchor="middle" textLength="32" lengthAdjust="spacingAndGlyphs" stroke="#1e222e" stroke-width="0.3">Accès</text>
<text x="1211" y="545.3" font-size="11.5" font-weight="bold" fill="#1e222e" text-anchor="middle" textLength="54.5" lengthAdjust="spacingAndGlyphs" stroke="#1e222e" stroke-width="0.3">plain-pied</text>
<line x1="93.5" y1="513.5" x2="121.4" y2="490" stroke="#1e222e" stroke-width="1.1"/>
<line x1="126" y1="469" x2="126" y2="508.6" stroke="#c4c4c4" stroke-width="0.9"/>
<line x1="123" y1="481" x2="123" y2="493" stroke="#1e222e" stroke-width="1.1"/>
<line x1="807.7" y1="490" x2="807.7" y2="517" stroke="#1e222e" stroke-width="1.4"/>
<circle cx="807.7" cy="490" r="1.2" fill="#1e222e"/>
<line x1="1214" y1="512.8" x2="1187" y2="489.8" stroke="#1e222e" stroke-width="1.1"/>
<circle cx="1187" cy="489.8" r="1.1" fill="#1e222e"/>
<line x1="1182" y1="470" x2="1182" y2="508.7" stroke="#c4c4c4" stroke-width="0.9"/>
<line x1="1187" y1="476.7" x2="1187" y2="489.8" stroke="#1e222e" stroke-width="1.1"/>
</svg>
</body></html>
